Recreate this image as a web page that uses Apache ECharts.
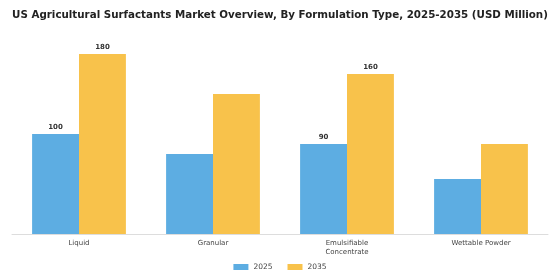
<!DOCTYPE html>
<html>
<head>
<meta charset="utf-8">
<script src="https://cdn.jsdelivr.net/npm/echarts@6/dist/echarts.min.js"></script>
<style>
  html, body { margin: 0; padding: 0; background: #fff; }
  #chart { width: 560px; height: 280px; }
</style>
</head>
<body>
<div id="chart"></div>
<script>
  var categories = ['Liquid', 'Granular', 'Emulsifiable\nConcentrate', 'Wettable Powder'];
  var values2025 = [100, 80, 90, 55];
  var values2035 = [180, 140, 160, 90];
  // only these bars carry a value label in the original
  var labelled = [true, false, true, false];

  function withLabels(values) {
    return values.map(function (v, i) {
      return {value: v, label: {show: labelled[i]}};
    });
  }

  var myChart = echarts.init(document.getElementById('chart'));
  myChart.setOption({
    title: {
      text: 'US Agricultural Surfactants Market Overview, By Formulation Type, 2025-2035 (USD Million)',
      left: 'center',
      top: 5,
      textStyle: {fontFamily: 'DejaVu Sans', fontSize: 10.3, fontWeight: 'bold', color: '#222'}
    },
    legend: {
      data: ['2025', '2035'],
      bottom: 4,
      left: 'center',
      itemWidth: 15,
      itemHeight: 6,
      itemGap: 15,
      icon: 'rect',
      textStyle: {fontFamily: 'DejaVu Sans', fontSize: 7.5, color: '#444'}
    },
    grid: {left: 12, right: 12, top: 34, bottom: 46},
    xAxis: {
      type: 'category',
      data: categories,
      axisLine: {lineStyle: {color: '#ddd'}},
      axisTick: {show: false},
      axisLabel: {fontFamily: 'DejaVu Sans', fontSize: 7, color: '#444', lineHeight: 9, margin: 5}
    },
    yAxis: {
      type: 'value',
      min: 0,
      max: 200,
      show: false,
      splitLine: {show: false}
    },
    series: [
      {
        name: '2025',
        type: 'bar',
        data: withLabels(values2025),
        barGap: '0%',
        barCategoryGap: '30%',
        itemStyle: {color: '#5DADE2'},
        label: {position: 'top', distance: 3, fontFamily: 'DejaVu Sans', fontSize: 7, fontWeight: 'bold', color: '#333'}
      },
      {
        name: '2035',
        type: 'bar',
        data: withLabels(values2035),
        itemStyle: {color: '#F8C24B'},
        label: {position: 'top', distance: 3, fontFamily: 'DejaVu Sans', fontSize: 7, fontWeight: 'bold', color: '#333'}
      }
    ]
  });
</script>
</body>
</html>
